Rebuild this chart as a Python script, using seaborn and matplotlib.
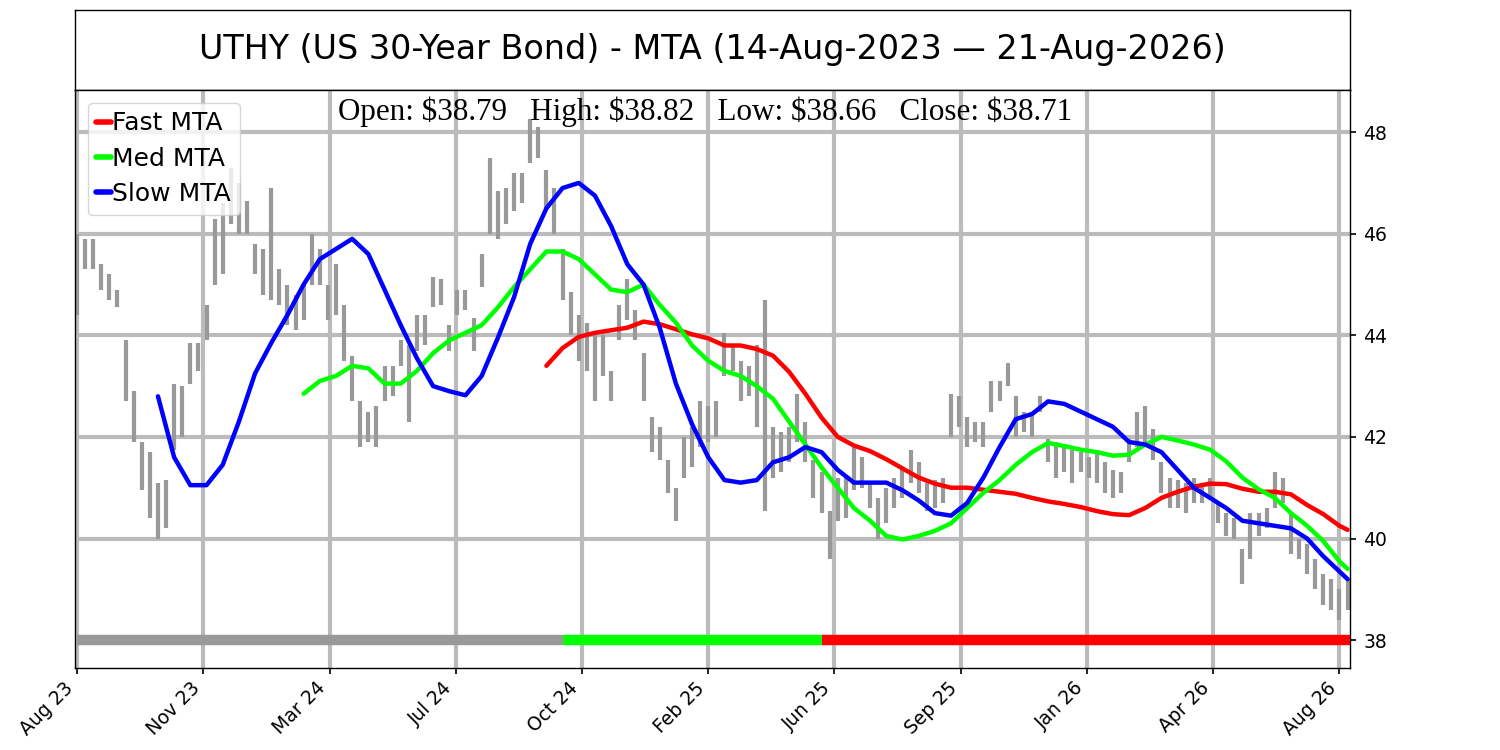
import numpy as np
import pandas as pd
import seaborn as sns
from matplotlib import pyplot as plt

# weekly bars, week 0 = 14-Aug-2023
bar_low = [44.4, 45.3, 45.3, 44.9, 44.7, 44.55, 42.7, 41.9, 40.95, 40.4,
           40.0, 40.2, 41.75, 42.0, 43.05, 43.3, 43.9, 45.0, 45.2, 46.2,
           46.0, 46.0, 45.2, 44.8, 44.7, 44.6, 44.2, 44.1, 44.3, 45.0,
           45.0, 44.3, 44.4, 43.5, 42.7, 41.8, 41.9, 41.8, 42.7, 42.8,
           43.4, 42.3, 43.7, 43.8, 44.55, 44.6, 43.7, 44.4, 44.5, 43.7,
           44.95, 46.0, 45.9, 46.2, 46.45, 46.6, 47.4, 47.5, 46.45, 46.0,
           44.7, 44.0, 43.5, 43.3, 42.7, 43.2, 42.7, 43.9, 44.3, 43.9,
           42.7, 41.7, 41.55, 40.9, 40.35, 41.2, 41.4, 41.8, 41.9, 42.0,
           43.2, 43.3, 42.7, 42.8, 42.2, 40.55, 41.2, 41.3, 41.5, 41.9,
           41.5, 40.8, 40.5, 39.6, 40.35, 40.4, 40.95, 41.0, 40.6, 40.0,
           40.3, 40.6, 40.8, 41.1, 40.9, 40.55, 40.6, 40.7, 42.0, 42.2,
           41.8, 41.9, 41.8, 42.5, 42.7, 43.0, 42.0, 42.1, 42.0, 42.5,
           41.5, 41.2, 41.3, 41.1, 41.3, 41.2, 41.1, 40.9, 40.8, 40.9,
           41.5, 41.8, 41.9, 41.55, 40.9, 40.6, 40.6, 40.5, 40.7, 40.7,
           40.8, 40.3, 40.05, 40.0, 39.1, 39.6, 40.05, 40.2, 40.6, 40.7,
           39.7, 39.6, 39.3, 39.0, 38.7, 38.6, 38.4, 38.6]
bar_high = [46.0, 45.9, 45.9, 45.4, 45.2, 44.9, 43.9, 42.9, 41.9, 41.7,
            41.1, 41.15, 43.05, 43.0, 43.85, 43.85, 44.6, 46.3, 46.6, 47.3,
            47.0, 46.65, 45.8, 45.7, 46.9, 45.3, 45.0, 44.8, 45.0, 46.0,
            45.7, 45.0, 45.4, 44.6, 43.6, 42.7, 42.5, 42.6, 43.4, 43.4,
            43.9, 43.8, 44.4, 44.4, 45.15, 45.1, 44.2, 44.9, 44.9, 44.35,
            45.6, 47.5, 46.85, 46.9, 47.2, 47.2, 48.25, 48.1, 47.25, 46.9,
            45.7, 44.85, 44.4, 44.25, 44.0, 44.0, 43.3, 44.6, 45.1, 44.5,
            43.65, 42.4, 42.2, 41.55, 41.0, 42.0, 42.2, 42.7, 42.6, 42.7,
            44.05, 43.8, 43.5, 43.4, 43.8, 44.7, 42.2, 42.1, 42.2, 42.85,
            42.3, 41.55, 41.3, 40.55, 41.2, 41.2, 41.8, 41.6, 41.1, 40.8,
            41.0, 41.2, 41.4, 41.75, 41.5, 41.1, 41.15, 41.2, 42.85, 42.8,
            42.4, 42.3, 42.3, 43.1, 43.1, 43.45, 42.8, 42.5, 42.5, 42.8,
            41.95, 41.9, 41.8, 41.75, 41.7, 41.6, 41.75, 41.5, 41.35, 41.3,
            41.95, 42.5, 42.6, 42.15, 41.5, 41.2, 41.15, 41.1, 41.2, 41.1,
            41.2, 40.7, 40.5, 40.4, 39.8, 40.5, 40.5, 40.6, 41.3, 41.2,
            40.5, 40.0, 39.9, 39.6, 39.3, 39.2, 39.0, 39.2]

# moving averages, every 2nd week (+ last week)
slow_start = 10
slow_mta = [42.8, 41.6, 41.05, 41.05, 41.45, 42.3, 43.25, 43.85, 44.4, 45.0,
            45.5, 45.7, 45.9, 45.6, 44.9, 44.2, 43.55, 43.0, 42.9, 42.82,
            43.2, 43.95, 44.75, 45.8, 46.5, 46.9, 47.0, 46.75, 46.15, 45.4,
            45.0, 44.15, 43.05, 42.25, 41.6, 41.15, 41.1, 41.15, 41.5, 41.6,
            41.8, 41.7, 41.35, 41.1, 41.1, 41.1, 40.95, 40.75, 40.5, 40.45,
            40.7, 41.2, 41.8, 42.35, 42.45, 42.7, 42.65, 42.5, 42.35, 42.2,
            41.9, 41.85, 41.7, 41.35, 41.0, 40.8, 40.6, 40.35, 40.3, 40.25,
            40.2, 40.0, 39.65, 39.35, 39.2]
med_start = 28
med_mta = [42.85, 43.1, 43.2, 43.4, 43.35, 43.05, 43.05, 43.3, 43.65, 43.9,
           44.05, 44.2, 44.55, 44.95, 45.3, 45.65, 45.65, 45.5, 45.2, 44.9,
           44.85, 45.0, 44.6, 44.25, 43.8, 43.5, 43.3, 43.2, 43.0, 42.75,
           42.3, 41.85, 41.4, 41.0, 40.6, 40.35, 40.05, 39.98, 40.05, 40.15,
           40.3, 40.6, 40.9, 41.15, 41.45, 41.7, 41.88, 41.82, 41.75, 41.7,
           41.63, 41.65, 41.85, 42.0, 41.93, 41.85, 41.75, 41.52, 41.2, 40.97,
           40.8, 40.5, 40.25, 39.95, 39.55, 39.4]
fast_start = 58
fast_mta = [43.4, 43.75, 43.97, 44.05, 44.1, 44.15, 44.27, 44.22, 44.12, 44.02,
            43.94, 43.8, 43.8, 43.73, 43.6, 43.28, 42.85, 42.38, 42.0, 41.83,
            41.72, 41.56, 41.38, 41.2, 41.08, 41.0, 41.0, 40.96, 40.92, 40.88,
            40.8, 40.73, 40.68, 40.62, 40.54, 40.48, 40.46, 40.6, 40.8, 40.92,
            41.02, 41.08, 41.07, 40.98, 40.92, 40.92, 40.87, 40.66, 40.48, 40.25,
            40.17]

# trend state strip (weeks)
trend_edges = [0, 60, 92, 157.3]
trend_state = ["neutral", "up", "down"]

tick_labels = ["Aug 23", "Nov 23", "Mar 24", "Jul 24", "Oct 24", "Feb 25",
               "Jun 25", "Sep 25", "Jan 26", "Apr 26", "Aug 26"]
tick_step = 15.6

title = "UTHY (US 30-Year Bond) - MTA (14-Aug-2023 \u2014 21-Aug-2026)"
ohlc_text = r"Open: \$38.79   High: \$38.82   Low: \$38.66   Close: \$38.71"

n_weeks = len(bar_low)
last = n_weeks - 1


def ma_frame(name, start, vals):
    x = np.r_[np.arange(start, last, 2), last]
    return pd.DataFrame({"week": x, "value": vals, "line": name})


lines = pd.concat([ma_frame("Fast MTA", fast_start, fast_mta),
                   ma_frame("Med MTA", med_start, med_mta),
                   ma_frame("Slow MTA", slow_start, slow_mta)])

sns.set_style("white")
plt.rcParams["font.family"] = ["DejaVu Sans"]
plt.rcParams["text.color"] = "black"
plt.rcParams["xtick.color"] = "black"
plt.rcParams["ytick.color"] = "black"

fig = plt.figure(figsize=(15, 7.5), dpi=100)
ax_t = fig.add_axes([0.05, 0.88, 0.85, 0.1067])
ax = fig.add_axes([0.05, 0.1093, 0.85, 0.7707])

ax_t.set_xticks([])
ax_t.set_yticks([])
for s in ax_t.spines.values():
    s.set_color("black")
    s.set_linewidth(1)
ax_t.text(0.5, 0.5, title, ha="center", va="center", fontsize=24)

weeks = np.arange(n_weeks)
ax.vlines(weeks, bar_low, bar_high, color="#999999", linewidth=3, zorder=2)

sns.lineplot(data=lines, x="week", y="value", hue="line", estimator=None,
             palette={"Fast MTA": "#ff0000", "Med MTA": "#00ff00", "Slow MTA": "#0000ff"},
             linewidth=3.2, ax=ax, zorder=3, solid_joinstyle="round")

trend_colors = {"neutral": "#999999", "up": "#00ff00", "down": "#ff0000"}
for i, st in enumerate(trend_state):
    ax.hlines(38, trend_edges[i], trend_edges[i + 1], color=trend_colors[st],
              linewidth=7.5, zorder=4)

ax.set_xlim(-0.25, 157.3)
ax.set_ylim(37.45, 48.83)
ax.set_xticks(np.arange(len(tick_labels)) * tick_step)
ax.set_xticklabels(tick_labels, rotation=45, ha="right", fontsize=13.5)
ax.set_yticks([38, 40, 42, 44, 46, 48])
ax.yaxis.tick_right()
ax.tick_params(axis="y", labelsize=13.5, length=4.5, width=1.2, pad=5, right=True)
ax.tick_params(axis="x", length=4, width=1.2, bottom=True)
ax.set_xlabel("")
ax.set_ylabel("")
ax.grid(True, color="#bbbbbb", linewidth=3, zorder=0)
ax.set_axisbelow(True)
for s in ax.spines.values():
    s.set_color("black")
    s.set_linewidth(1)

handles, labels = ax.get_legend_handles_labels()
for h in handles:
    h.set_linewidth(4)
ax.legend(handles, labels, loc="upper left", fontsize=18, handlelength=0.6,
          handletextpad=0.05, borderpad=0.35, labelspacing=0.45, framealpha=0.8,
          borderaxespad=0.5)

ax.text(0.494, 0.948, ohlc_text, transform=ax.transAxes, ha="center", va="baseline",
        fontsize=22.4, family=["Liberation Serif", "DejaVu Serif"])

fig.savefig("out.png", dpi=100)
